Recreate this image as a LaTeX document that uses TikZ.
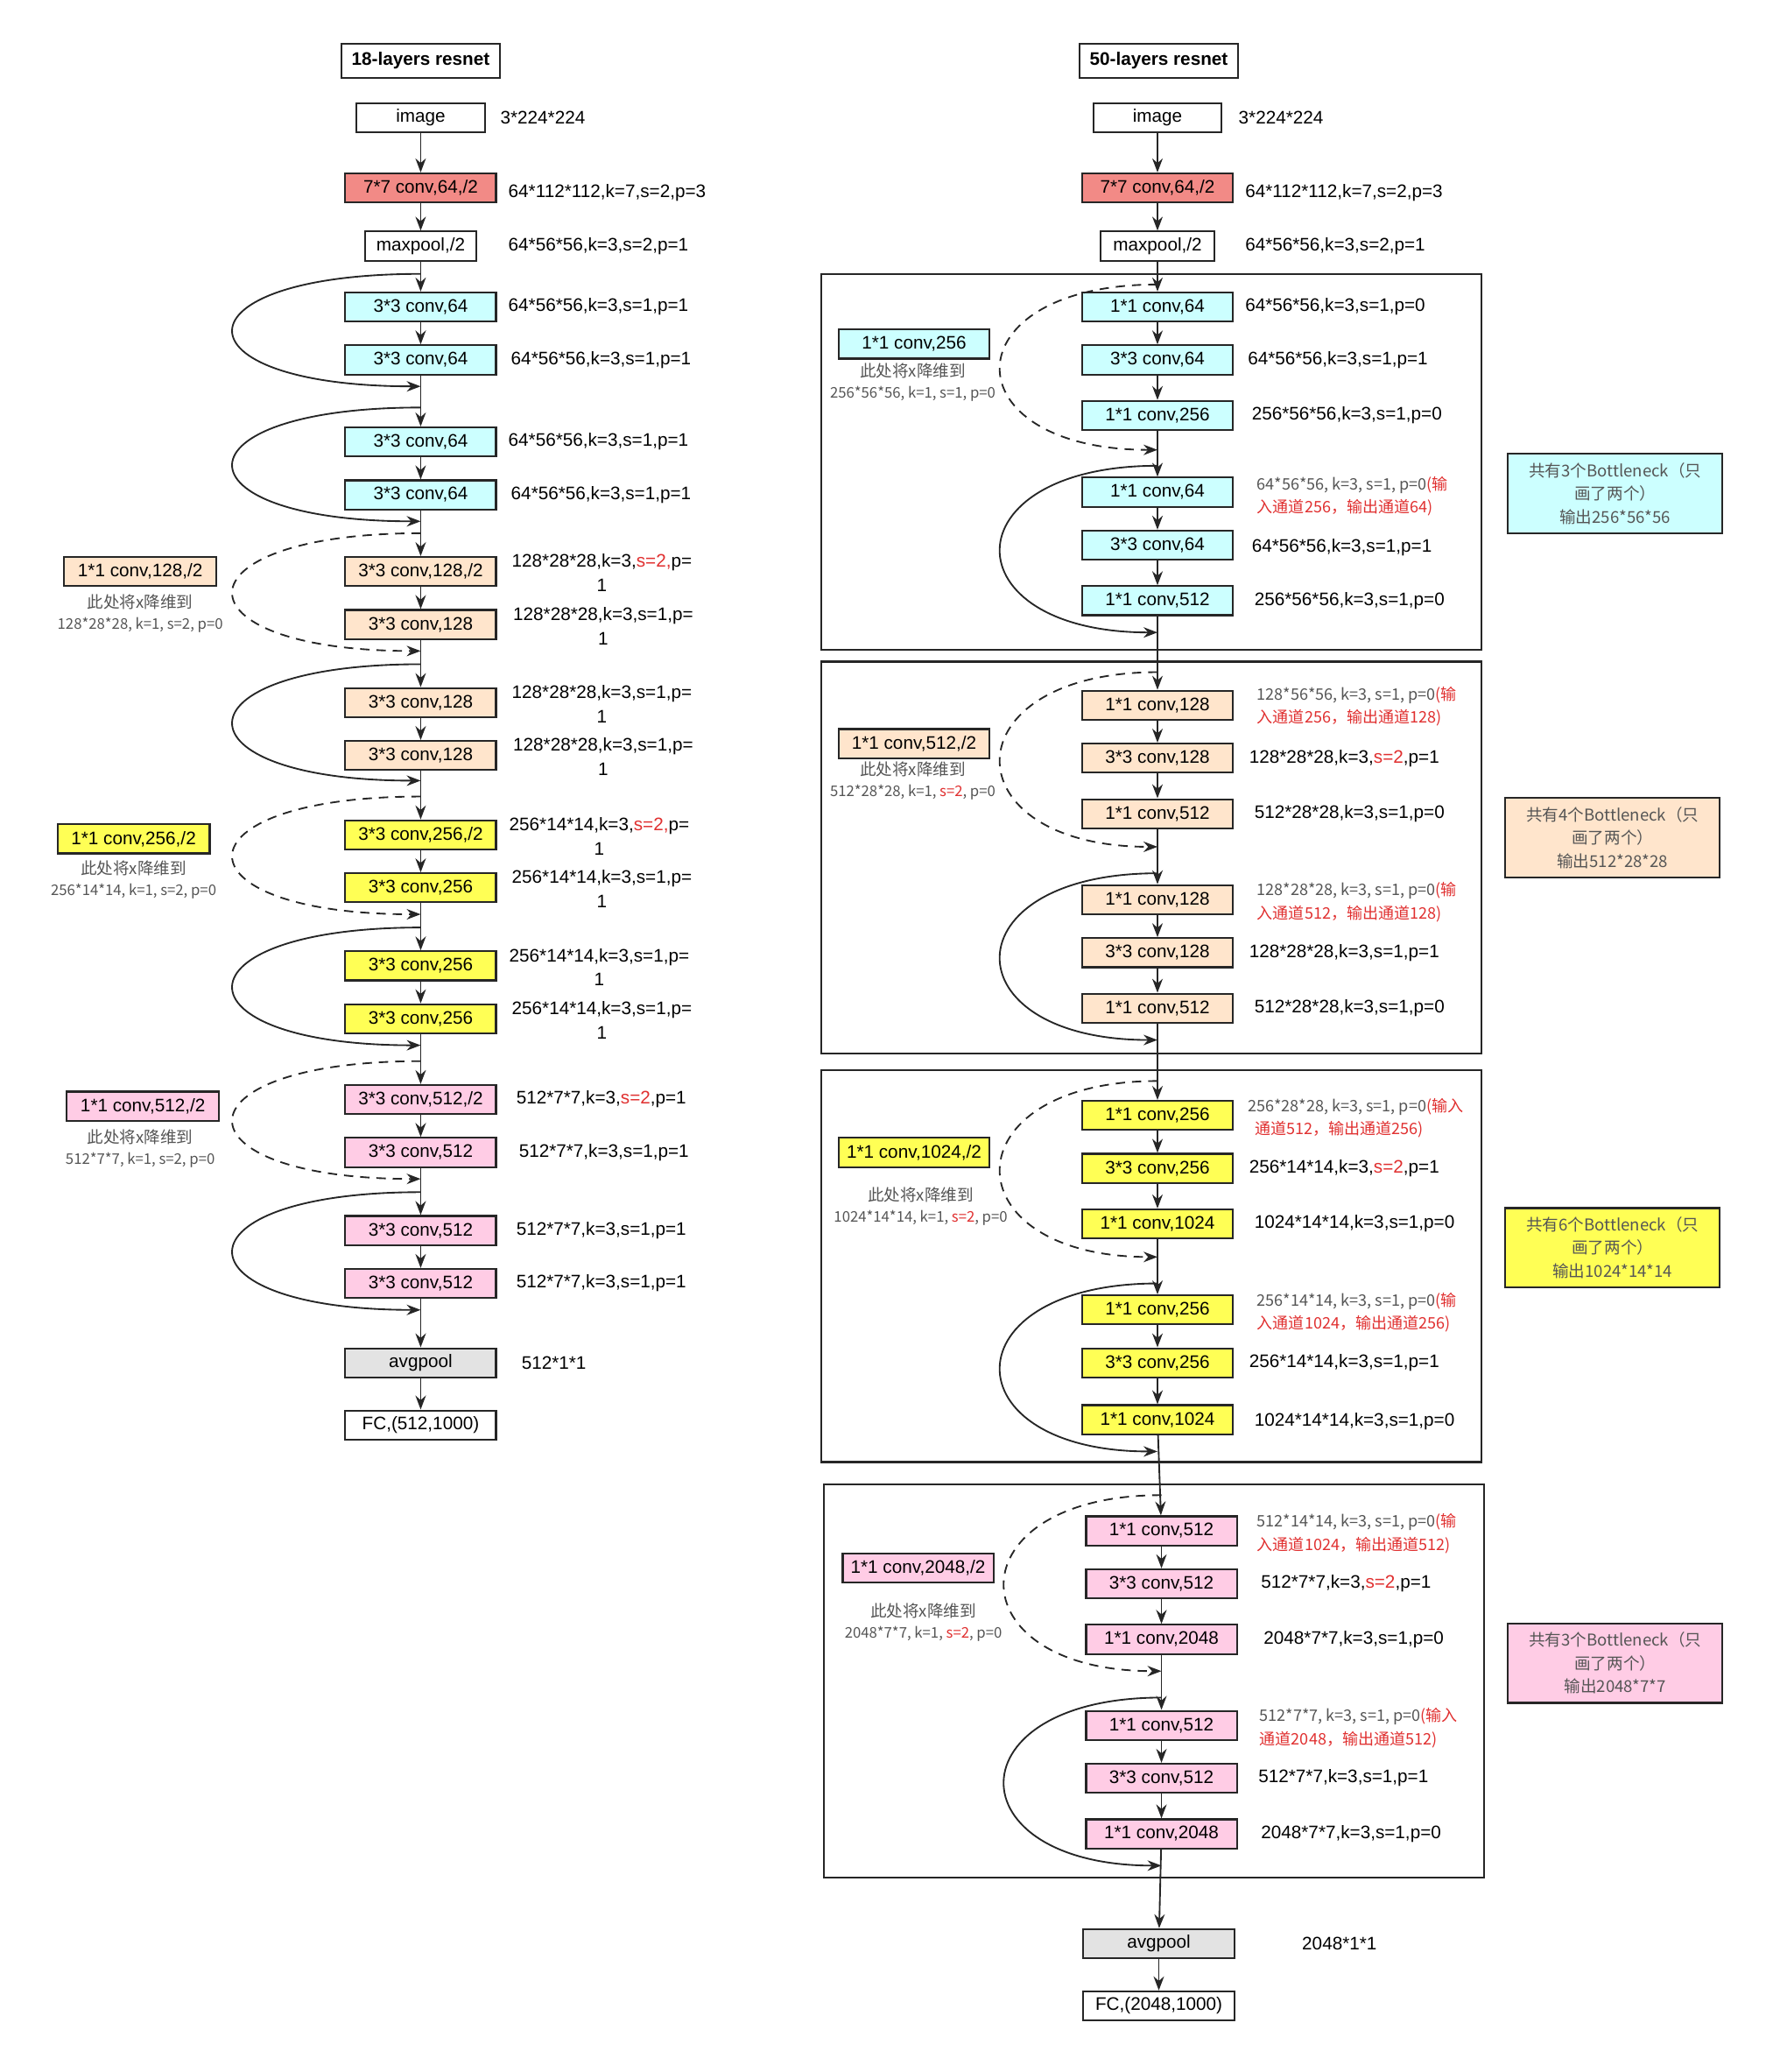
\documentclass[tikz,border=0pt]{standalone}
\usepackage{fontspec}
\setmainfont{Liberation Sans}
\newfontfamily\cjk{Noto Sans CJK SC}
\usetikzlibrary{arrows.meta}
\definecolor{cred}{HTML}{F28A86}
\definecolor{ccy}{HTML}{CCFFFF}
\definecolor{cpe}{HTML}{FFE5CC}
\definecolor{cye}{HTML}{FFFF55}
\definecolor{cpi}{HTML}{FFCCE5}
\definecolor{cgr}{HTML}{E3E3E3}
\definecolor{ctx}{HTML}{555555}
\definecolor{rd}{HTML}{E03030}
\begin{document}
\begin{tikzpicture}[x=0.02cm,y=-0.02cm,
 box/.style={draw=black!85,line width=0.8pt,minimum width=2.28cm,minimum height=0.44cm,inner sep=1pt,font=\fontsize{7.8}{9.5}\selectfont},
 ttl/.style={draw=black!85,line width=0.8pt,minimum width=2.4cm,minimum height=0.52cm,font=\bfseries\fontsize{7.8}{9.5}\selectfont},
 lab/.style={anchor=west,font=\fontsize{7.8}{9.5}\selectfont,inner sep=0pt},
 lab2/.style={align=center,font=\fontsize{7.8}{10.5}\selectfont,inner sep=0pt},
 note/.style={align=center,text=ctx,font=\cjk\fontsize{7}{10}\selectfont,inner sep=0pt},
 rnote/.style={anchor=west,align=left,text=ctx,font=\cjk\fontsize{6.8}{10}\selectfont,inner sep=0pt},
 sumb/.style={draw=black!85,line width=0.8pt,minimum width=3.24cm,minimum height=1.2cm,align=center,text=ctx,font=\cjk\fontsize{7}{10}\selectfont},
 frame/.style={draw=black!85,line width=0.8pt},
 arr/.style={-{Stealth[length=6pt,width=4.5pt]},black!85,line width=0.7pt},
 dsh/.style={arr,dashed,dash pattern=on 4pt off 3pt}]
\useasboundingbox (0,0) rectangle (1340,1566);
% ---------------- left column ----------------
\node[ttl] (lt) at (318,46) {18-layers resnet};
\node[box,minimum width=1.94cm] (li) at (318,89) {image};
\node[box,fill=cred] (lc) at (318,142) {7*7 conv,64,/2};
\node[box,minimum width=1.68cm] (lm) at (318,186) {maxpool,/2};
\foreach \n/\y/\c/\t in {a1/232/ccy/{3*3 conv,64},a2/272/ccy/{3*3 conv,64},a3/334/ccy/{3*3 conv,64},a4/374/ccy/{3*3 conv,64},
 b1/432/cpe/{3*3 conv,128,/2},b2/472/cpe/{3*3 conv,128},b3/531/cpe/{3*3 conv,128},b4/571/cpe/{3*3 conv,128},
 c1/631/cye/{3*3 conv,256,/2},c2/671/cye/{3*3 conv,256},c3/730/cye/{3*3 conv,256},c4/770/cye/{3*3 conv,256},
 d1/831/cpi/{3*3 conv,512,/2},d2/871/cpi/{3*3 conv,512},d3/930/cpi/{3*3 conv,512},d4/970/cpi/{3*3 conv,512}}
 \node[box,fill=\c] (\n) at (318,\y) {\t};
\node[box,fill=cgr] (lav) at (318,1030) {avgpool};
\node[box] (lfc) at (318,1077) {FC,(512,1000)};
\draw[arr] (li)--(lc); \draw[arr] (lc)--(lm); \draw[arr] (lm)--(a1);
\foreach \p/\q in {a1/a2,a2/a3,a3/a4,a4/b1,b1/b2,b2/b3,b3/b4,b4/c1,c1/c2,c2/c3,c3/c4,c4/d1,d1/d2,d2/d3,d3/d4,d4/lav,lav/lfc}
 \draw[arr] (\p)--(\q);
% skip curves
\foreach \s/\e/\st in {207/292/arr,308/394/arr,403/492/dsh,502/590/arr,602/691/dsh,701/790/arr,802/891/dsh,901/990/arr}{
 \coordinate (s\s) at (318,\s); \coordinate (e\s) at (318,\e);
 \draw[\st] (s\s) .. controls (129,\s) and (129,\e) .. (e\s);}
% labels
\node[lab] at (378,89) {3*224*224};
\node[lab] at (384,146) {64*112*112,k=7,s=2,p=3};
\node[lab] at (384,186) {64*56*56,k=3,s=2,p=1};
\node[lab] at (384,232) {64*56*56,k=3,s=1,p=1};
\node[lab] at (386,272) {64*56*56,k=3,s=1,p=1};
\node[lab] at (384,334) {64*56*56,k=3,s=1,p=1};
\node[lab] at (386,374) {64*56*56,k=3,s=1,p=1};
\node[lab2] at (455,433) {128*28*28,k=3,\textcolor{rd}{s=2,}p=\\1};
\node[lab2] at (456,473) {128*28*28,k=3,s=1,p=\\1};
\node[lab2] at (455,532) {128*28*28,k=3,s=1,p=\\1};
\node[lab2] at (456,572) {128*28*28,k=3,s=1,p=\\1};
\node[lab2] at (453,632) {256*14*14,k=3,\textcolor{rd}{s=2,}p=\\1};
\node[lab2] at (455,672) {256*14*14,k=3,s=1,p=\\1};
\node[lab2] at (453,731) {256*14*14,k=3,s=1,p=\\1};
\node[lab2] at (455,771) {256*14*14,k=3,s=1,p=\\1};
\node[lab] at (390,831) {512*7*7,k=3,\textcolor{rd}{s=2},p=1};
\node[lab] at (392,871) {512*7*7,k=3,s=1,p=1};
\node[lab] at (390,930) {512*7*7,k=3,s=1,p=1};
\node[lab] at (390,970) {512*7*7,k=3,s=1,p=1};
\node[lab] at (394,1030) {512*1*1};
% side boxes
\node[box,fill=cpe,minimum width=2.3cm] (ls1) at (106,432) {1*1 conv,128,/2};
\node[note] at (106,464) {此处将x降维到\\[-1pt]{\fontsize{6.3}{8}\selectfont 128*28*28, k=1, s=2, p=0}};
\node[box,fill=cye,minimum width=2.3cm] (ls2) at (101,634) {1*1 conv,256,/2};
\node[note] at (101,665) {此处将x降维到\\[-1pt]{\fontsize{6.3}{8}\selectfont 256*14*14, k=1, s=2, p=0}};
\node[box,fill=cpi,minimum width=2.3cm] (ls3) at (108,836) {1*1 conv,512,/2};
\node[note] at (106,868) {此处将x降维到\\[-1pt]{\fontsize{6.3}{8}\selectfont 512*7*7, k=1, s=2, p=0}};
% ---------------- right column ----------------
\node[ttl] (rt) at (876,46) {50-layers resnet};
\node[box,minimum width=1.94cm] (ri) at (875,89) {image};
\node[box,fill=cred] (rc) at (875,142) {7*7 conv,64,/2};
\node[box,minimum width=1.72cm] (rm) at (875,186) {maxpool,/2};
\draw[frame] (621,207) rectangle (1120,491);
\draw[frame] (621,500) rectangle (1120,796);
\draw[frame] (621,809) rectangle (1120,1105);
\draw[frame] (623,1122) rectangle (1122,1419);
\foreach \n/\x/\y/\c/\t in {
 p1/875/232/ccy/{1*1 conv,64},p2/875/272/ccy/{3*3 conv,64},p3/875/314/ccy/{1*1 conv,256},p4/875/372/ccy/{1*1 conv,64},p5/875/412/ccy/{3*3 conv,64},p6/875/454/ccy/{1*1 conv,512},
 q1/875/533/cpe/{1*1 conv,128},q2/875/573/cpe/{3*3 conv,128},q3/875/615/cpe/{1*1 conv,512},q4/875/680/cpe/{1*1 conv,128},q5/875/720/cpe/{3*3 conv,128},q6/875/762/cpe/{1*1 conv,512},
 u1/875/843/cye/{1*1 conv,256},u2/875/883/cye/{3*3 conv,256},u3/875/925/cye/{1*1 conv,1024},u4/875/990/cye/{1*1 conv,256},u5/875/1030/cye/{3*3 conv,256},u6/875/1073/cye/{1*1 conv,1024},
 v1/878/1157/cpi/{1*1 conv,512},v2/878/1197/cpi/{3*3 conv,512},v3/878/1239/cpi/{1*1 conv,2048},v4/878/1304/cpi/{1*1 conv,512},v5/878/1344/cpi/{3*3 conv,512},v6/878/1386/cpi/{1*1 conv,2048}}
 \node[box,fill=\c] (\n) at (\x,\y) {\t};
\node[box,fill=cgr] (rav) at (876,1469) {avgpool};
\node[box] (rfc) at (876,1516) {FC,(2048,1000)};
\draw[arr] (ri)--(rc); \draw[arr] (rc)--(rm); \draw[arr] (rm)--(p1);
\foreach \p/\q in {p1/p2,p2/p3,p3/p4,p4/p5,p5/p6,p6/q1,q1/q2,q2/q3,q3/q4,q4/q5,q5/q6,q6/u1,u1/u2,u2/u3,u3/u4,u4/u5,u5/u6,u6/v1,v1/v2,v2/v3,v3/v4,v4/v5,v5/v6,v6/rav,rav/rfc}
 \draw[arr] (\p)--(\q);
\foreach \x/\s/\e/\st in {875/215/340/dsh,875/352/478/arr,875/508/640/dsh,875/660/786/arr,875/817/950/dsh,875/970/1097/arr,878/1130/1263/dsh,878/1283/1410/arr}{
 \coordinate (rs\s) at (\x,\s); \coordinate (re\s) at (\x,\e);
 \draw[\st] (rs\s) .. controls ({\x-158},\s) and ({\x-158},\e) .. (re\s);}
% right labels
\node[lab] at (936,89) {3*224*224};
\node[lab] at (941,146) {64*112*112,k=7,s=2,p=3};
\node[lab] at (941,186) {64*56*56,k=3,s=2,p=1};
\node[lab] at (941,232) {64*56*56,k=3,s=1,p=0};
\node[lab] at (943,272) {64*56*56,k=3,s=1,p=1};
\node[lab] at (946,314) {256*56*56,k=3,s=1,p=0};
\node[rnote] at (950,375) {64*56*56, k=3, s=1, p=0\textcolor{rd}{(输}\\\textcolor{rd}{入通道256，输出通道64)}};
\node[lab] at (946,414) {64*56*56,k=3,s=1,p=1};
\node[lab] at (948,454) {256*56*56,k=3,s=1,p=0};
\node[rnote] at (950,534) {128*56*56, k=3, s=1, p=0\textcolor{rd}{(输}\\\textcolor{rd}{入通道256，输出通道128)}};
\node[lab] at (944,573) {128*28*28,k=3,\textcolor{rd}{s=2},p=1};
\node[lab] at (948,615) {512*28*28,k=3,s=1,p=0};
\node[rnote] at (950,682) {128*28*28, k=3, s=1, p=0\textcolor{rd}{(输}\\\textcolor{rd}{入通道512，输出通道128)}};
\node[lab] at (944,720) {128*28*28,k=3,s=1,p=1};
\node[lab] at (948,762) {512*28*28,k=3,s=1,p=0};
\node[rnote] at (943,845) {256*28*28, k=3, s=1, p=0\textcolor{rd}{(输入}\\\textcolor{rd}{\ \ 通道512，输出通道256)}};
\node[lab] at (944,883) {256*14*14,k=3,\textcolor{rd}{s=2},p=1};
\node[lab] at (948,925) {1024*14*14,k=3,s=1,p=0};
\node[rnote] at (950,992) {256*14*14, k=3, s=1, p=0\textcolor{rd}{(输}\\\textcolor{rd}{入通道1024，输出通道256)}};
\node[lab] at (944,1030) {256*14*14,k=3,s=1,p=1};
\node[lab] at (948,1074) {1024*14*14,k=3,s=1,p=0};
\node[rnote] at (950,1159) {512*14*14, k=3, s=1, p=0\textcolor{rd}{(输}\\\textcolor{rd}{入通道1024，输出通道512)}};
\node[lab] at (953,1197) {512*7*7,k=3,\textcolor{rd}{s=2},p=1};
\node[lab] at (955,1239) {2048*7*7,k=3,s=1,p=0};
\node[rnote] at (952,1306) {512*7*7, k=3, s=1, p=0\textcolor{rd}{(输入}\\\textcolor{rd}{通道2048，输出通道512)}};
\node[lab] at (951,1344) {512*7*7,k=3,s=1,p=1};
\node[lab] at (953,1386) {2048*7*7,k=3,s=1,p=0};
\node[lab] at (984,1469) {2048*1*1};
% side boxes right
\node[box,fill=ccy] (rs1) at (691,260) {1*1 conv,256};
\node[note] at (690,289) {此处将x降维到\\[-1pt]{\fontsize{6.3}{8}\selectfont 256*56*56, k=1, s=1, p=0}};
\node[box,fill=cpe] (rs2) at (691,562) {1*1 conv,512,/2};
\node[note] at (690,590) {此处将x降维到\\[-1pt]{\fontsize{6.3}{8}\selectfont 512*28*28, k=1, \textcolor{rd}{s=2}, p=0}};
\node[box,fill=cye] (rs3) at (691,871) {1*1 conv,1024,/2};
\node[note] at (696,912) {此处将x降维到\\[-1pt]{\fontsize{6.3}{8}\selectfont 1024*14*14, k=1, \textcolor{rd}{s=2}, p=0}};
\node[box,fill=cpi] (rs4) at (694,1185) {1*1 conv,2048,/2};
\node[note] at (698,1226) {此处将x降维到\\[-1pt]{\fontsize{6.3}{8}\selectfont 2048*7*7, k=1, \textcolor{rd}{s=2}, p=0}};
% summary boxes
\node[sumb,fill=ccy] (m1) at (1221,373) {共有3个Bottleneck（只\\画了两个）\\输出256*56*56};
\node[sumb,fill=cpe] (m2) at (1219,633) {共有4个Bottleneck（只\\画了两个）\\输出512*28*28};
\node[sumb,fill=cye] (m3) at (1219,943) {共有6个Bottleneck（只\\画了两个）\\输出1024*14*14};
\node[sumb,fill=cpi] (m4) at (1221,1257) {共有3个Bottleneck（只\\画了两个）\\输出2048*7*7};
\end{tikzpicture}
\end{document}
